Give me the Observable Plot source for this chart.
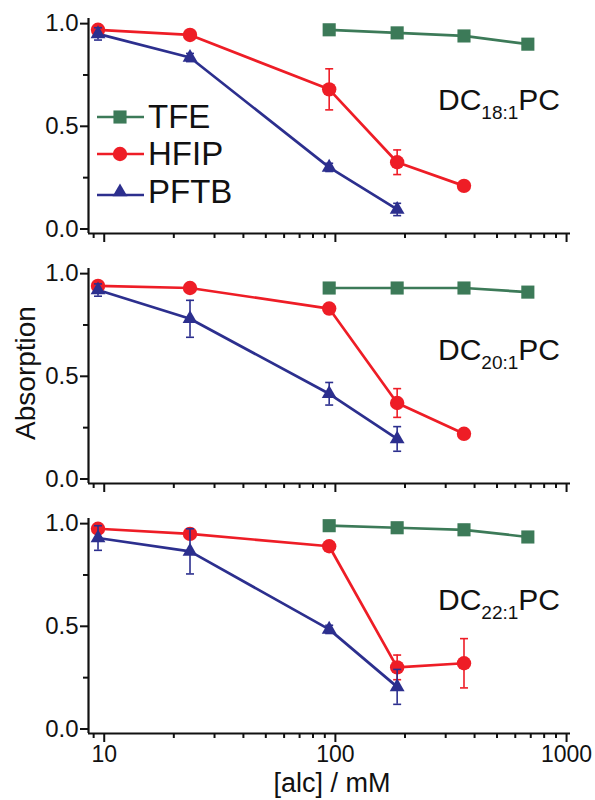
<!DOCTYPE html>
<html><head><meta charset="utf-8">
<script src="https://cdn.jsdelivr.net/npm/d3@7"></script>
<script src="https://cdn.jsdelivr.net/npm/@observablehq/plot@0.6"></script>
<style>
body{margin:0;background:#fff}
#wrap{position:relative;width:595px;height:800px;overflow:hidden;font-family:"Liberation Sans",Arial,Helvetica,sans-serif}
#wrap svg{display:block}
#ov{position:absolute;left:0;top:0}
</style></head><body><div id="wrap"><div id="plots"></div></div>
<script>
// ---- data ----
const lipidSubs = ["18:1", "20:1", "22:1"];
const series = ["TFE", "HFIP", "PFTB"];
const colors = ["#3c7a58", "#ee1d26", "#2c2f8e"];
const symbols = ["square", "circle", "triangle"];
const concTFE = [94, 185, 360, 680];
const concHFIP = [9.4, 23.5, 94, 185, 360];
const concPFTB = [9.4, 23.5, 94, 185];
const tfe = [[0.97, 0.955, 0.94, 0.90], [0.93, 0.93, 0.93, 0.91], [0.99, 0.98, 0.97, 0.935]];
const tfeErr = [[0.01, 0.01, 0.01, 0.01], [0.01, 0.01, 0.01, 0.015], [0.01, 0.02, 0.025, 0.025]];
const hfip = [[0.97, 0.945, 0.68, 0.325, 0.21], [0.94, 0.93, 0.83, 0.37, 0.22], [0.975, 0.95, 0.89, 0.30, 0.32]];
const hfipErr = [[0.01, 0.01, 0.10, 0.06, 0.015], [0.01, 0.01, 0.02, 0.07, 0.02], [0.015, 0.015, 0.015, 0.06, 0.12]];
const pftb = [[0.95, 0.835, 0.30, 0.095], [0.92, 0.78, 0.415, 0.195], [0.93, 0.865, 0.485, 0.205]];
const pftbErr = [[0.03, 0.02, 0.02, 0.03], [0.03, 0.09, 0.055, 0.06], [0.06, 0.11, 0.02, 0.085]];
const xMajor = [10, 100, 1000];
const xMinor = [9, 20, 30, 40, 50, 60, 70, 80, 90, 200, 300, 400, 500, 600, 700, 800, 900];
const yMajor = [0, 0.5, 1.0];
const yMinor = [0.25, 0.75];
const xDomain = [8.55, 1040];
const yDomain = [-0.022, 1.025];
const yLabel = "Absorption";
const xLabel = "[alc] / mM";

const FONT = '"Liberation Sans", Arial, Helvetica, sans-serif';
const capSymbol = {draw(ctx, size) { const w = Math.sqrt(size) / 2; ctx.moveTo(-w, 0); ctx.lineTo(w, 0); }};
const dotR = {square: 7.4, circle: 7.2, triangle: 5.5};

function rows(k) {
  const out = [];
  concTFE.forEach((c, i) => out.push({s: "TFE", x: c, y: tfe[k][i], e: tfeErr[k][i]}));
  concHFIP.forEach((c, i) => out.push({s: "HFIP", x: c, y: hfip[k][i], e: hfipErr[k][i]}));
  concPFTB.forEach((c, i) => out.push({s: "PFTB", x: c, y: pftb[k][i], e: pftbErr[k][i]}));
  return out;
}

function panel(k, last) {
  const data = rows(k);
  const marks = [
    Plot.axisY({ticks: yMajor, tickSize: 8, tickPadding: 2, tickFormat: d3.format(".1f"), strokeWidth: 2, label: null, fontSize: 24, fill: "#111"}),
    Plot.axisY({ticks: yMinor, tickSize: 5, tickFormat: () => "", strokeWidth: 2, label: null}),
    Plot.axisX({ticks: xMajor, tickSize: 9, tickPadding: 3, tickFormat: last ? (d => String(d)) : (() => ""), strokeWidth: 2, label: null, fontSize: 23, fill: "#111"}),
    Plot.axisX({ticks: xMinor, tickSize: 5, tickFormat: () => "", strokeWidth: 2, label: null}),
    Plot.ruleX([xDomain[0]], {strokeWidth: 2.2}),
    Plot.ruleY([yDomain[0]], {strokeWidth: 2.2})
  ];
  series.forEach((s, j) => {
    const d = data.filter(r => r.s === s);
    marks.push(Plot.line(d, {x: "x", y: "y", stroke: colors[j], strokeWidth: 2.7}));
  });
  series.forEach((s, j) => {
    const d = data.filter(r => r.s === s);
    marks.push(Plot.ruleX(d, {x: "x", y1: r => r.y - r.e, y2: r => r.y + r.e, stroke: colors[j], strokeWidth: 1.6}));
    marks.push(Plot.dot(d, {x: "x", y: r => r.y - r.e, symbol: capSymbol, r: 4.5, stroke: colors[j], strokeWidth: 1.6, fill: "none"}));
    marks.push(Plot.dot(d, {x: "x", y: r => r.y + r.e, symbol: capSymbol, r: 4.5, stroke: colors[j], strokeWidth: 1.6, fill: "none"}));
    marks.push(Plot.dot(d, {x: "x", y: "y", symbol: symbols[j], r: dotR[symbols[j]], fill: colors[j], stroke: "none"}));
  });
  return Plot.plot({
    width: 595, height: last ? 300 : 250,
    marginLeft: 88, marginRight: 25, marginTop: 18, marginBottom: last ? 67 : 17,
    x: {type: "log", domain: xDomain},
    y: {domain: yDomain},
    style: {fontFamily: FONT, fontSize: "24px", background: "white", color: "#111", overflow: "visible"},
    marks
  });
}

const host = document.getElementById("plots");
[0, 1, 2].forEach(k => host.appendChild(panel(k, k === 2)));

// ---- overlay text: legend, panel labels, axis titles ----
const ov = d3.select("#wrap").append("svg").attr("id", "ov").attr("width", 595).attr("height", 800)
  .style("font-family", FONT);

// legend
const legY = [117, 154, 192];
series.forEach((s, j) => {
  const g = ov.append("g");
  g.append("line").attr("x1", 97).attr("x2", 144).attr("y1", legY[j] + (j === 2 ? 3 : 0)).attr("y2", legY[j] + (j === 2 ? 3 : 0))
    .attr("stroke", colors[j]).attr("stroke-width", 2.7);
  const sym = {square: d3.symbolSquare, circle: d3.symbolCircle, triangle: d3.symbolTriangle}[symbols[j]];
  const r = dotR[symbols[j]];
  g.append("path").attr("d", d3.symbol(sym, Math.PI * r * r)()).attr("transform", `translate(120,${legY[j]})`).attr("fill", colors[j]);
  g.append("text").attr("x", 148).attr("y", legY[j] + 11).attr("font-size", 33).attr("fill", "#111").text(s);
});

// panel labels
lipidSubs.forEach((sub, k) => {
  const t = ov.append("text").attr("x", 438).attr("y", 110 + 250 * k).attr("font-size", 30).attr("fill", "#111");
  t.append("tspan").text("DC");
  t.append("tspan").attr("font-size", 19).attr("dy", 9).text(sub);
  t.append("tspan").attr("dy", -9).text("PC");
});

// y label
ov.append("text").attr("transform", "translate(35,373) rotate(-90)").attr("text-anchor", "middle")
  .attr("font-size", 28).attr("fill", "#111").text(yLabel);
// x label
ov.append("text").attr("x", 332).attr("y", 792).attr("text-anchor", "middle")
  .attr("font-size", 27).attr("fill", "#111").text(xLabel);
</script>
</body></html>
